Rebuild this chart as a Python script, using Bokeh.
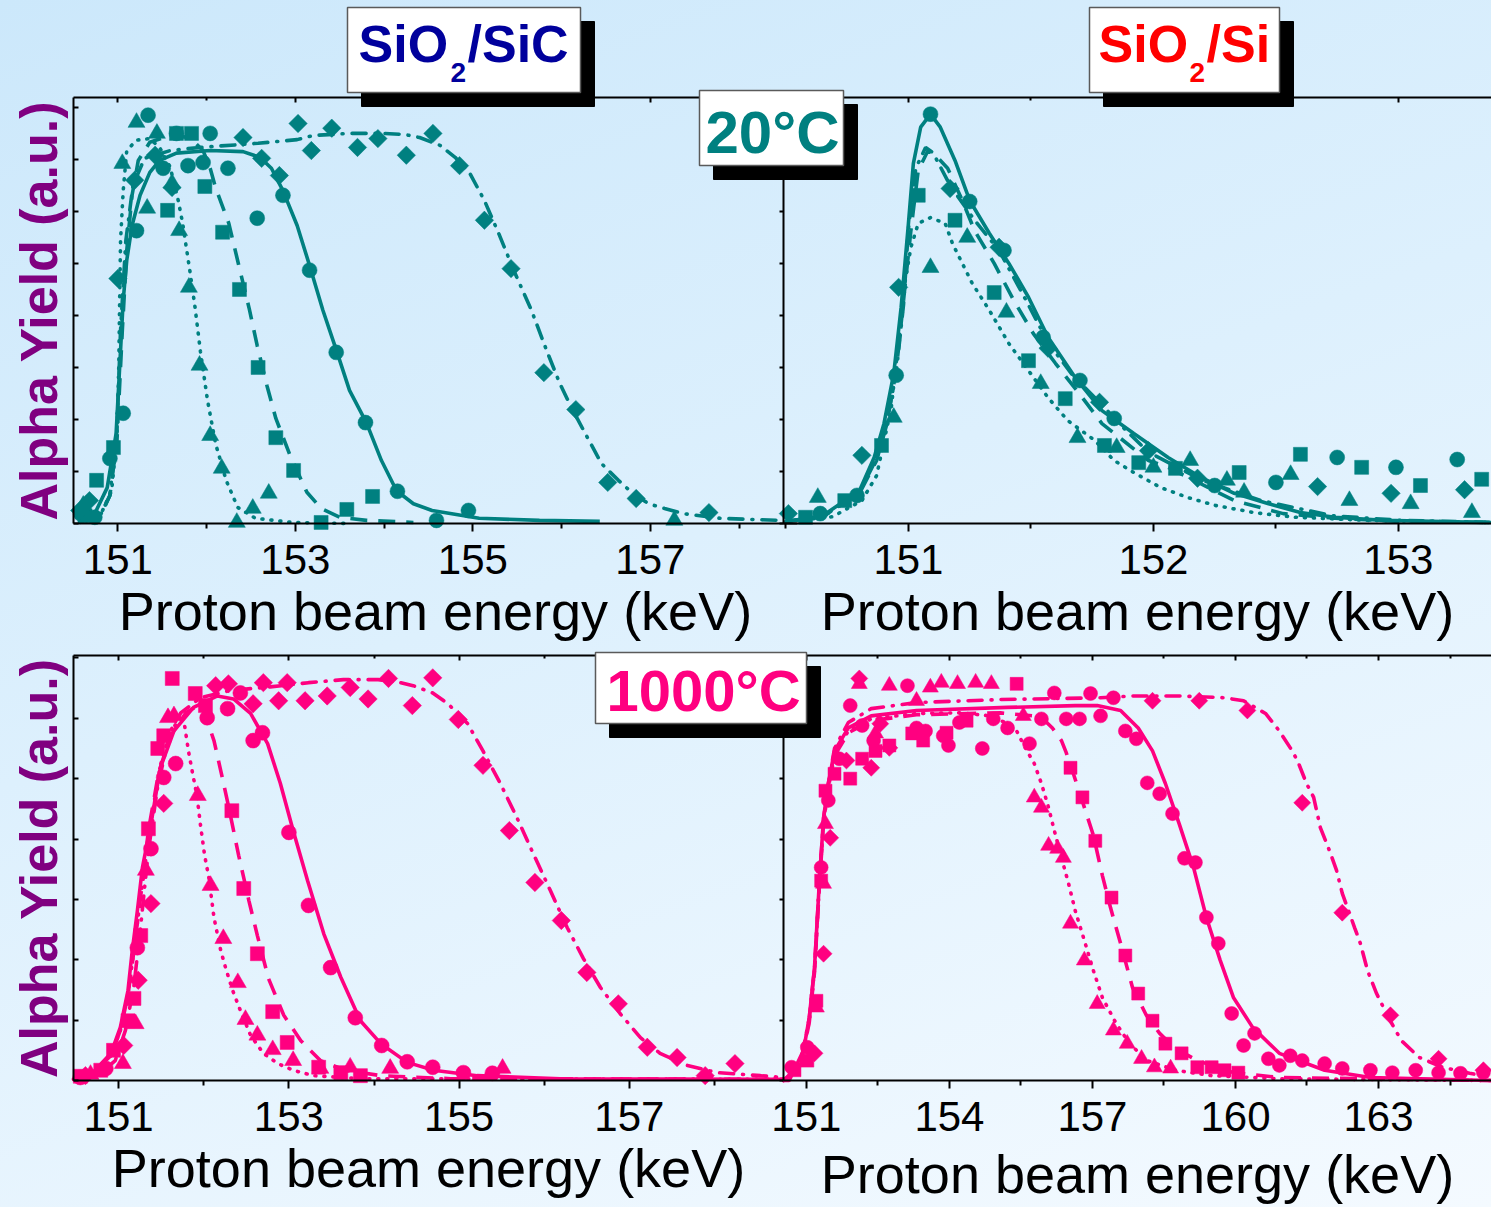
import numpy as np
from bokeh.plotting import figure
from bokeh.models import Range1d, LinearAxis, FixedTicker
from bokeh.layouts import column
from bokeh.embed import file_html
from bokeh.resources import INLINE
from bokeh.core.properties import value

# ---------------------------------------------------------------- data
# Energies in keV, yields in arbitrary units.

# SiO2/SiC, 20 C
tl_circ_x = [150.58, 150.74, 150.91, 151.06, 151.21, 151.34, 151.51, 151.66, 151.79, 151.96, 152.04, 152.24, 152.57, 152.86, 153.16, 153.46, 153.79, 154.15, 154.59, 154.95]
tl_circ_y = [0.19, 0.12, 1.25, 2.12, 5.63, 7.85, 6.83, 7.50, 6.88, 6.94, 7.50, 6.83, 5.87, 6.31, 4.87, 3.29, 1.94, 0.62, 0.06, 0.25]
tl_sq_x = [150.63, 150.76, 150.95, 151.56, 151.66, 151.83, 151.98, 152.18, 152.37, 152.58, 152.78, 152.98, 153.29, 153.58, 153.87]
tl_sq_y = [0.15, 0.83, 1.46, 6.02, 7.50, 7.50, 6.48, 5.60, 4.50, 3.00, 1.65, 1.02, 0.02, 0.27, 0.52]
tl_tri_x = [150.61, 151.05, 151.21, 151.33, 151.44, 151.61, 151.69, 151.80, 151.92, 152.04, 152.17, 152.34, 152.52, 152.70, 157.27]
tl_tri_y = [0.35, 6.92, 7.71, 6.06, 7.50, 6.54, 5.63, 4.54, 3.04, 1.69, 1.06, 0.02, 0.29, 0.58, 0.06]
tl_dia_x = [150.57, 150.68, 151.00, 151.19, 151.42, 151.61, 152.41, 152.62, 152.82, 153.03, 153.18, 153.41, 153.70, 153.93, 154.25, 154.55, 154.85, 155.13, 155.43, 155.80, 156.16, 156.52, 156.84, 157.66]
tl_dia_y = [0.25, 0.44, 4.71, 6.60, 7.08, 6.46, 7.42, 7.02, 6.69, 7.69, 7.17, 7.60, 7.23, 7.40, 7.08, 7.50, 6.88, 5.83, 4.90, 2.90, 2.19, 0.79, 0.48, 0.21]

tl_fit_solid_x = [150.57, 150.72, 150.88, 150.98, 151.02, 151.06, 151.10, 151.16, 151.25, 151.36, 151.47, 151.66, 152.04, 152.41, 152.60, 152.73, 152.86, 153.02, 153.16, 153.31, 153.47, 153.61, 153.80, 153.97, 154.14, 154.33, 154.54, 155.07, 155.75, 156.43]
tl_fit_solid_y = [0.02, 0.12, 0.69, 1.73, 3.00, 4.29, 5.06, 5.73, 6.31, 6.75, 6.98, 7.12, 7.17, 7.15, 7.04, 6.83, 6.40, 5.73, 4.96, 4.10, 3.29, 2.56, 1.94, 1.21, 0.63, 0.38, 0.25, 0.10, 0.06, 0.04]
tl_fit_dash_x = [150.63, 150.80, 150.91, 150.99, 151.05, 151.10, 151.16, 151.23, 151.36, 151.59, 151.81, 151.96, 152.04, 152.10, 152.25, 152.36, 152.48, 152.57, 152.68, 152.78, 152.94, 153.13, 153.29, 153.50, 153.80, 154.33]
tl_fit_dash_y = [0.04, 0.13, 0.54, 1.60, 3.71, 5.25, 6.31, 6.98, 7.33, 7.46, 7.42, 7.17, 6.83, 6.46, 5.77, 4.98, 4.13, 3.42, 2.65, 2.02, 1.31, 0.60, 0.29, 0.12, 0.06, 0.02]
tl_fit_dot_x = [150.57, 150.80, 150.93, 150.99, 151.01, 151.02, 151.03, 151.06, 151.10, 151.21, 151.36, 151.47, 151.59, 151.68, 151.73, 151.81, 151.87, 151.93, 152.01, 152.10, 152.22, 152.35, 152.55, 152.97, 153.61]
tl_fit_dot_y = [0.04, 0.15, 0.63, 1.73, 3.00, 4.29, 5.44, 6.40, 7.17, 7.37, 7.40, 7.23, 6.85, 6.21, 5.77, 4.87, 4.15, 3.31, 2.37, 1.54, 0.83, 0.31, 0.10, 0.02, 0.00]
tl_fit_dd_x = [150.57, 150.80, 150.91, 150.99, 151.03, 151.09, 151.17, 151.30, 151.59, 151.92, 152.58, 153.02, 153.20, 153.61, 153.98, 154.23, 154.40, 154.63, 154.80, 154.96, 155.13, 155.30, 155.47, 155.66, 155.83, 155.98, 156.11, 156.26, 156.45, 156.64, 156.80, 156.98, 157.16, 157.37, 157.79, 158.44]
tl_fit_dd_y = [0.04, 0.15, 0.54, 1.79, 3.71, 5.44, 6.50, 7.02, 7.17, 7.23, 7.31, 7.38, 7.46, 7.50, 7.50, 7.48, 7.42, 7.27, 7.04, 6.75, 6.21, 5.54, 4.83, 4.10, 3.33, 2.69, 2.23, 1.75, 1.15, 0.83, 0.58, 0.38, 0.29, 0.19, 0.10, 0.06]

# SiO2/Si, 20 C
tr_circ_x = [150.64, 150.79, 150.95, 151.09, 151.25, 151.39, 151.55, 151.70, 151.84, 152.25, 152.50, 152.75, 152.99, 153.24]
tr_circ_y = [0.19, 0.54, 2.85, 7.87, 6.19, 5.25, 3.58, 2.75, 2.02, 0.73, 0.79, 1.27, 1.08, 1.23]
tr_sq_x = [150.58, 150.74, 150.89, 151.04, 151.19, 151.35, 151.49, 151.64, 151.80, 151.94, 152.09, 152.35, 152.60, 152.85, 153.09, 153.34]
tr_sq_y = [0.12, 0.44, 1.50, 6.31, 5.83, 4.44, 3.13, 2.40, 1.50, 1.17, 1.06, 0.98, 1.33, 1.08, 0.73, 0.85]
tr_tri_x = [150.63, 150.94, 151.09, 151.24, 151.40, 151.54, 151.69, 151.85, 152.00, 152.15, 152.30, 152.37, 152.56, 152.80, 153.05, 153.30]
tr_tri_y = [0.50, 2.04, 4.92, 5.50, 4.06, 2.69, 1.65, 1.46, 1.08, 1.21, 0.83, 0.60, 0.94, 0.44, 0.38, 0.21]
tr_dia_x = [150.51, 150.81, 150.96, 151.17, 151.37, 151.57, 151.78, 151.98, 152.18, 152.67, 152.97, 153.27]
tr_dia_y = [0.19, 1.31, 4.54, 6.44, 5.31, 3.37, 2.33, 1.40, 0.87, 0.71, 0.58, 0.65]

tr_fit_solid_x = [150.50, 150.65, 150.80, 150.86, 150.90, 150.94, 150.97, 151.00, 151.02, 151.05, 151.09, 151.13, 151.19, 151.25, 151.33, 151.41, 151.49, 151.57, 151.68, 151.79, 151.92, 152.06, 152.20, 152.33, 152.47, 152.60, 152.74, 152.94, 153.38]
tr_fit_solid_y = [0.04, 0.15, 0.63, 1.27, 1.92, 2.88, 4.15, 5.77, 6.92, 7.62, 7.87, 7.62, 6.98, 6.21, 5.58, 5.00, 4.35, 3.58, 2.81, 2.17, 1.73, 1.27, 0.87, 0.58, 0.38, 0.21, 0.12, 0.06, 0.02]
tr_fit_dash_x = [150.50, 150.65, 150.80, 150.87, 150.91, 150.95, 150.98, 151.01, 151.04, 151.08, 151.11, 151.16, 151.22, 151.27, 151.35, 151.43, 151.51, 151.60, 151.71, 151.79, 151.98, 152.06, 152.33, 152.53, 152.74, 153.01, 153.38]
tr_fit_dash_y = [0.04, 0.13, 0.58, 1.21, 1.88, 2.94, 4.29, 5.63, 6.79, 7.17, 7.08, 6.83, 6.21, 5.63, 5.00, 4.29, 3.65, 3.08, 2.42, 1.92, 1.21, 1.08, 0.44, 0.19, 0.10, 0.04, 0.02]
tr_fit_dot_x = [150.50, 150.69, 150.81, 150.87, 150.93, 150.96, 150.98, 151.01, 151.04, 151.09, 151.15, 151.18, 151.22, 151.26, 151.33, 151.41, 151.49, 151.57, 151.65, 151.76, 151.84, 151.92, 152.03, 152.14, 152.25, 152.41, 152.58, 152.88, 153.38]
tr_fit_dot_y = [0.04, 0.13, 0.44, 0.92, 2.23, 3.52, 4.48, 5.31, 5.77, 5.88, 5.77, 5.38, 5.00, 4.62, 4.10, 3.46, 2.94, 2.42, 1.98, 1.60, 1.21, 0.98, 0.69, 0.50, 0.35, 0.21, 0.12, 0.06, 0.02]
tr_fit_dd_x = [150.50, 150.65, 150.80, 150.87, 150.91, 150.95, 150.98, 151.00, 151.03, 151.07, 151.10, 151.17, 151.27, 151.37, 151.47, 151.57, 151.67, 151.78, 151.88, 151.98, 152.20, 152.44, 152.73, 153.01, 153.38]
tr_fit_dd_y = [0.04, 0.13, 0.60, 1.25, 1.90, 2.90, 4.21, 5.67, 6.83, 7.23, 7.13, 6.50, 5.83, 5.25, 4.38, 3.48, 2.85, 2.33, 1.83, 1.37, 0.83, 0.44, 0.15, 0.06, 0.02]

# SiO2/SiC, 1000 C
bl_circ_x = [150.55, 150.85, 151.22, 151.38, 151.53, 151.67, 152.04, 152.28, 152.43, 152.58, 152.69, 153.00, 153.23, 153.49, 153.78, 154.09, 154.39, 154.69, 155.05, 155.39]
bl_circ_y = [0.05, 0.20, 2.20, 3.84, 5.02, 5.25, 6.01, 6.16, 6.42, 5.63, 5.76, 4.11, 2.90, 1.87, 1.04, 0.58, 0.31, 0.22, 0.13, 0.12]
bl_sq_x = [150.55, 150.79, 150.94, 151.11, 151.18, 151.26, 151.35, 151.46, 151.53, 151.63, 151.90, 152.02, 152.33, 152.47, 152.63, 152.81, 152.98, 153.35, 153.61, 153.84]
bl_sq_y = [0.07, 0.17, 0.50, 0.99, 1.36, 2.40, 4.17, 5.50, 5.71, 6.66, 6.41, 6.21, 4.47, 3.18, 2.10, 1.14, 0.63, 0.22, 0.13, 0.08]
bl_tri_x = [150.67, 151.05, 151.20, 151.32, 151.58, 151.65, 151.93, 152.08, 152.23, 152.40, 152.49, 152.63, 152.81, 153.05, 153.37, 153.72, 154.19, 155.51]
bl_tri_y = [0.10, 0.28, 0.94, 3.48, 6.01, 6.04, 4.72, 3.23, 2.35, 1.62, 1.01, 0.75, 0.51, 0.33, 0.20, 0.22, 0.20, 0.20]
bl_dia_x = [150.61, 151.06, 151.23, 151.38, 151.53, 152.14, 152.29, 152.58, 152.70, 152.88, 152.98, 153.19, 153.45, 153.72, 153.93, 154.17, 154.45, 154.69, 154.99, 155.28, 155.59, 155.89, 156.20, 156.50, 156.87, 157.21, 157.56, 157.89, 158.24]
bl_dia_y = [0.08, 0.58, 1.66, 2.93, 4.59, 6.54, 6.57, 6.24, 6.59, 6.29, 6.59, 6.29, 6.37, 6.51, 6.32, 6.66, 6.21, 6.67, 5.98, 5.22, 4.14, 3.28, 2.65, 1.79, 1.27, 0.55, 0.38, 0.08, 0.28]

bl_fit_solid_x = [150.47, 150.71, 150.91, 151.02, 151.11, 151.16, 151.22, 151.28, 151.38, 151.49, 151.65, 151.88, 152.16, 152.35, 152.55, 152.75, 152.90, 153.05, 153.22, 153.41, 153.61, 153.84, 154.08, 154.39, 154.70, 155.21, 156.19, 158.81]
bl_fit_solid_y = [0.02, 0.15, 0.45, 0.88, 1.49, 2.15, 2.81, 3.53, 4.25, 5.18, 5.79, 6.18, 6.37, 6.32, 6.08, 5.58, 4.92, 4.14, 3.31, 2.43, 1.71, 0.99, 0.61, 0.30, 0.17, 0.08, 0.03, 0.02]
bl_fit_dash_x = [150.47, 150.71, 150.91, 151.02, 151.11, 151.18, 151.26, 151.35, 151.47, 151.61, 151.79, 151.96, 152.04, 152.12, 152.20, 152.29, 152.41, 152.53, 152.63, 152.76, 152.94, 153.14, 153.37, 153.66, 154.08, 154.90, 158.81]
bl_fit_dash_y = [0.02, 0.15, 0.41, 0.83, 1.41, 2.15, 3.06, 4.14, 5.10, 5.71, 6.09, 6.24, 5.96, 5.63, 5.13, 4.55, 3.73, 2.98, 2.40, 1.69, 1.08, 0.66, 0.33, 0.17, 0.08, 0.03, 0.02]
bl_fit_dot_x = [150.47, 150.71, 150.91, 151.02, 151.11, 151.18, 151.26, 151.38, 151.49, 151.61, 151.70, 151.77, 151.82, 151.87, 151.92, 151.96, 152.01, 152.06, 152.12, 152.20, 152.26, 152.34, 152.43, 152.55, 152.70, 152.87, 153.05, 153.29, 153.84, 158.81]
bl_fit_dot_y = [0.02, 0.15, 0.41, 0.83, 1.44, 2.15, 3.06, 4.30, 5.22, 5.79, 6.03, 5.93, 5.46, 5.08, 4.72, 4.25, 3.73, 3.36, 2.70, 2.15, 1.85, 1.49, 1.16, 0.75, 0.45, 0.28, 0.17, 0.08, 0.03, 0.02]
bl_fit_dd_x = [150.50, 150.79, 150.96, 151.08, 151.18, 151.26, 151.35, 151.46, 151.58, 151.73, 151.96, 152.31, 152.78, 153.23, 153.64, 154.05, 154.31, 154.46, 154.69, 154.87, 155.10, 155.28, 155.48, 155.68, 155.87, 156.07, 156.27, 156.46, 156.66, 156.89, 157.13, 157.36, 157.68, 158.03, 158.54, 158.81]
bl_fit_dd_y = [0.03, 0.12, 0.33, 0.83, 1.57, 2.57, 3.81, 4.88, 5.63, 6.09, 6.34, 6.46, 6.52, 6.59, 6.64, 6.64, 6.59, 6.54, 6.42, 6.24, 5.91, 5.46, 4.93, 4.35, 3.76, 3.15, 2.53, 2.02, 1.54, 1.11, 0.71, 0.45, 0.25, 0.13, 0.08, 0.05]

# SiO2/Si, 1000 C
br_circ_x = [150.69, 151.02, 151.31, 151.46, 151.69, 151.92, 152.17, 152.41, 153.12, 153.31, 153.50, 153.87, 153.98, 154.21, 154.69, 154.92, 155.22, 155.68, 155.93, 156.20, 156.45, 156.73, 156.96, 157.17, 157.44, 157.69, 157.92, 158.15, 158.41, 158.68, 158.93, 159.16, 159.39, 159.64, 159.92, 160.17, 160.40, 160.69, 160.92, 161.15, 161.40, 161.87, 162.24, 162.83, 163.29, 163.78, 164.26, 164.72, 165.20]
br_circ_y = [0.22, 0.55, 3.53, 4.64, 5.33, 6.21, 5.88, 5.63, 6.54, 5.84, 5.79, 5.71, 5.55, 5.93, 5.50, 5.99, 5.84, 5.58, 5.99, 6.42, 5.99, 5.99, 6.41, 6.04, 6.34, 5.79, 5.66, 4.93, 4.75, 4.42, 3.68, 3.61, 2.70, 2.27, 1.11, 0.58, 0.78, 0.36, 0.25, 0.41, 0.33, 0.28, 0.20, 0.17, 0.13, 0.17, 0.13, 0.12, 0.13]
br_sq_x = [150.75, 151.02, 151.21, 151.31, 151.40, 151.59, 151.92, 152.17, 152.45, 152.74, 153.22, 153.45, 153.94, 154.36, 155.41, 156.54, 156.79, 157.06, 157.40, 157.69, 157.96, 158.26, 158.53, 158.87, 159.20, 159.50, 159.77, 160.06]
br_sq_y = [0.17, 0.33, 1.32, 3.31, 4.80, 5.08, 5.00, 5.33, 5.46, 5.55, 5.75, 5.63, 5.76, 5.96, 6.57, 5.18, 4.69, 3.97, 3.03, 2.07, 1.44, 0.99, 0.61, 0.45, 0.22, 0.22, 0.17, 0.13]
br_tri_x = [151.21, 151.36, 151.40, 152.11, 152.45, 152.74, 153.31, 153.60, 153.83, 154.17, 154.55, 154.88, 155.55, 155.78, 155.93, 156.08, 156.27, 156.39, 156.54, 156.83, 157.10, 157.44, 157.73, 158.03, 158.30, 158.64]
br_tri_y = [1.21, 3.26, 4.25, 6.57, 5.75, 6.54, 6.29, 6.51, 6.59, 6.57, 6.59, 6.57, 6.04, 4.69, 4.52, 3.89, 3.84, 3.69, 2.60, 1.99, 1.27, 0.83, 0.61, 0.36, 0.22, 0.20]
br_dia_x = [151.17, 151.36, 151.50, 151.84, 152.11, 152.36, 152.55, 152.74, 158.26, 159.24, 160.25, 161.40, 162.24, 163.25, 164.26, 165.20]
br_dia_y = [0.45, 2.10, 4.02, 5.30, 6.66, 5.18, 5.91, 5.51, 6.29, 6.29, 6.13, 4.60, 2.78, 1.08, 0.36, 0.17]

br_fit_solid_x = [150.52, 150.64, 150.94, 151.06, 151.17, 151.27, 151.36, 151.46, 151.59, 151.88, 152.36, 153.31, 155.22, 156.64, 157.10, 157.59, 157.96, 158.26, 158.53, 158.82, 159.12, 159.39, 159.68, 159.96, 160.36, 160.92, 161.87, 162.83, 165.37]
br_fit_solid_y = [0.00, 0.00, 0.50, 1.04, 1.87, 3.26, 4.35, 4.92, 5.46, 5.84, 6.04, 6.13, 6.18, 6.21, 6.21, 6.13, 5.84, 5.46, 4.92, 4.25, 3.53, 2.70, 1.99, 1.37, 0.88, 0.45, 0.17, 0.05, 0.00]
br_fit_dash_x = [150.52, 150.87, 151.06, 151.17, 151.27, 151.36, 151.46, 151.59, 151.88, 152.36, 153.31, 155.07, 155.91, 156.16, 156.35, 156.45, 156.58, 156.75, 157.02, 157.21, 157.38, 157.59, 157.84, 158.13, 158.41, 158.74, 159.20, 159.96, 160.92, 165.37]
br_fit_dash_y = [0.00, 0.23, 0.96, 1.79, 3.18, 4.27, 4.85, 5.38, 5.76, 5.96, 6.06, 6.09, 6.03, 5.84, 5.63, 5.43, 5.13, 4.72, 4.06, 3.39, 2.86, 2.27, 1.54, 1.08, 0.78, 0.53, 0.33, 0.13, 0.05, 0.00]
br_fit_dot_x = [150.52, 150.87, 151.06, 151.17, 151.27, 151.36, 151.46, 151.59, 151.88, 152.36, 153.31, 154.23, 154.86, 155.22, 155.41, 155.59, 155.78, 155.93, 156.08, 156.20, 156.35, 156.50, 156.64, 156.83, 157.02, 157.21, 157.50, 157.78, 158.15, 158.74, 159.50, 160.92, 165.37]
br_fit_dot_y = [0.00, 0.25, 0.99, 1.82, 3.23, 4.30, 4.88, 5.43, 5.79, 5.99, 6.08, 6.09, 6.04, 5.91, 5.79, 5.51, 5.25, 4.92, 4.52, 4.14, 3.69, 3.26, 2.81, 2.32, 1.82, 1.37, 0.94, 0.61, 0.33, 0.17, 0.08, 0.03, 0.00]
br_fit_dd_x = [150.52, 150.87, 151.06, 151.17, 151.27, 151.36, 151.46, 151.59, 151.88, 152.36, 153.31, 155.07, 157.17, 157.88, 158.82, 159.77, 160.17, 160.63, 160.92, 161.15, 161.30, 161.49, 161.64, 161.78, 161.97, 162.12, 162.24, 162.50, 162.62, 162.77, 162.96, 163.21, 163.48, 163.86, 164.34, 164.91, 165.37]
br_fit_dd_y = [0.00, 0.26, 1.03, 1.85, 3.25, 4.34, 4.92, 5.50, 5.93, 6.16, 6.26, 6.31, 6.34, 6.37, 6.37, 6.34, 6.29, 6.08, 5.79, 5.51, 5.30, 4.92, 4.69, 4.19, 3.81, 3.48, 3.10, 2.53, 2.27, 1.82, 1.44, 1.04, 0.66, 0.38, 0.22, 0.12, 0.05]

# axis ticks (keV)
tl_ticks, tl_minor = [151, 153, 155, 157], [152, 154, 156, 158]
tr_ticks, tr_minor = [151, 152, 153], [150.5, 151.5, 152.5]
bl_ticks, bl_minor = [151, 153, 155, 157], [152, 154, 156, 158]
br_ticks, br_minor = [151, 154, 157, 160, 163], [152.5, 155.5, 158.5, 161.5, 164.5]

# ---------------------------------------------------------------- layout
W = 1491
TOP_H, BOT_H = 645, 562
LEFT, SPLIT = 73, 783
FONT = "Liberation Sans"
TEAL, PINK, PURPLE = "#008080", "#FF0080", "#800080"


def widen(lo, hi, p0, p1, total):
    """Range over the whole canvas such that [lo, hi] lands on pixels [p0, p1]."""
    k = (hi - lo) / (p1 - p0)
    return Range1d(lo - p0 * k, hi + (total - p1) * k)


def make_row(page_top, height, frame_top, frame_bot, ymax, ldom, rdom):
    p = figure(width=W, height=height, output_backend="svg", toolbar_location=None,
               x_range=Range1d(0, W), y_range=Range1d(page_top + height, page_top),
               x_axis_location=None, y_axis_location=None, min_border=0,
               background_fill_color=None, border_fill_color=None, outline_line_color=None)
    p.xgrid.grid_line_color = None
    p.ygrid.grid_line_color = None
    p.extra_x_ranges = {"L": widen(ldom[0], ldom[1], LEFT, SPLIT, W),
                        "R": widen(rdom[0], rdom[1], SPLIT, W, W)}
    bot = page_top + height
    p.extra_y_ranges = {"v": widen(0, ymax, bot - frame_bot, bot - frame_top, height)}
    return p


# tick marks only, no tick text
QUIET = dict(major_label_text_color=None, major_label_text_font_size="1px", major_label_standoff=0)


def add_axes(p, ymax, ldom, rdom, lt, lm, rt, rm, label_standoff, lbounds, rbounds):
    common = dict(axis_line_width=2, major_tick_line_width=2, minor_tick_line_width=2,
                  axis_line_color="black", major_tick_line_color="black", minor_tick_line_color="black")
    for name, dom, bnd, ticks, minor, std in (("L", ldom, lbounds, lt, lm, label_standoff[0]),
                                              ("R", rdom, rbounds, rt, rm, label_standoff[1])):
        ax = LinearAxis(x_range_name=name, y_range_name="v", fixed_location=0, bounds=bnd,
                        ticker=FixedTicker(ticks=ticks, minor_ticks=minor),
                        axis_label="Proton beam energy (keV)",
                        axis_label_text_font=FONT, axis_label_text_font_size="54px",
                        axis_label_text_font_style="normal", axis_label_text_color="black",
                        axis_label_standoff=std,
                        major_label_text_font=FONT, major_label_text_font_size="42px",
                        major_label_text_color="black", major_label_standoff=13,
                        major_tick_in=0, major_tick_out=8, minor_tick_in=0, minor_tick_out=5, **common)
        p.add_layout(ax, "below")
        top = LinearAxis(x_range_name=name, y_range_name="v", fixed_location=ymax, bounds=dom,
                         ticker=FixedTicker(ticks=ticks, minor_ticks=minor),
                         major_tick_in=5, major_tick_out=0, minor_tick_in=3, minor_tick_out=0,
                         **QUIET, **common)
        p.add_layout(top, "above")
    ay = LinearAxis(x_range_name="L", y_range_name="v", fixed_location=ldom[0], bounds=(0, ymax),
                    ticker=FixedTicker(ticks=list(range(0, int(ymax) + 1)), minor_ticks=[]),
                    axis_label="Alpha Yield (a.u.)", axis_label_text_font=FONT,
                    axis_label_text_font_size="52px", axis_label_text_font_style="bold",
                    axis_label_text_color=PURPLE, axis_label_standoff=6,
                    major_tick_in=5, major_tick_out=0, minor_tick_in=0, minor_tick_out=0,
                    **QUIET, **common)
    p.add_layout(ay, "left")
    sep = LinearAxis(x_range_name="R", y_range_name="v", fixed_location=rdom[0], bounds=(0, ymax),
                     ticker=FixedTicker(ticks=list(range(0, int(ymax) + 1)), minor_ticks=[]),
                     major_tick_in=0, major_tick_out=4, minor_tick_in=0, minor_tick_out=0,
                     **QUIET, **common)
    p.add_layout(sep, "left")


STYLES = {"solid": dict(line_dash="solid", line_cap="butt"),
          "dash": dict(line_dash="17 11", line_cap="butt"),
          "dot": dict(line_dash="1 8", line_cap="round"),
          "dd": dict(line_dash="14 9 1 9", line_cap="round")}


def draw_panel(p, rng, color, fits, marks, msize):
    for (fx, fy), style in fits:
        p.line(fx, fy, x_range_name=rng, y_range_name="v", line_color=color,
               line_width=3.6, **STYLES[style])
    for (mx, my), marker in marks:
        kw = dict(marker=marker, size=msize[marker])
        if marker == "diamond":
            kw = dict(marker="square", angle=np.pi / 4, size=msize[marker])
        p.scatter(mx, my, x_range_name=rng, y_range_name="v", fill_color=color,
                  line_color=color, line_width=0.5, **kw)


def boxed(p, left, right, top, bottom, shift=14):
    p.quad(left=left + shift, right=right + shift, top=top + shift, bottom=bottom + shift,
           fill_color="black", line_color="black", level="overlay")
    p.quad(left=left, right=right, top=top, bottom=bottom, fill_color="white",
           line_color="#5a5a5a", line_width=1.5, level="overlay")


def label(p, x, base, txt, color, size, align="left"):
    # the text glyph's alphabetic anchor sits about a third of an em below the drawn baseline
    p.text(x=[x], y=[base - 0.34 * size], text=[txt], text_color=color, text_font=value(FONT),
           text_font_style="bold", text_font_size=f"{size}px", text_align=align,
           text_baseline="alphabetic", level="overlay")


msize = {"circle": 15, "square": 14, "triangle": 17, "diamond": 13}

# ---------------------------------------------------------------- top row (20 C)
TL_DOM, TR_DOM, TOP_YMAX = (150.5, 158.5), (150.49, 153.38), 8.19
top = make_row(0, TOP_H, 97, 523, TOP_YMAX, TL_DOM, TR_DOM)
draw_panel(top, "L", TEAL,
           [((tl_fit_solid_x, tl_fit_solid_y), "solid"), ((tl_fit_dash_x, tl_fit_dash_y), "dash"),
            ((tl_fit_dot_x, tl_fit_dot_y), "dot"), ((tl_fit_dd_x, tl_fit_dd_y), "dd")],
           [((tl_circ_x, tl_circ_y), "circle"), ((tl_sq_x, tl_sq_y), "square"),
            ((tl_tri_x, tl_tri_y), "triangle"), ((tl_dia_x, tl_dia_y), "diamond")], msize)
draw_panel(top, "R", TEAL,
           [((tr_fit_solid_x, tr_fit_solid_y), "solid"), ((tr_fit_dash_x, tr_fit_dash_y), "dash"),
            ((tr_fit_dot_x, tr_fit_dot_y), "dot"), ((tr_fit_dd_x, tr_fit_dd_y), "dd")],
           [((tr_circ_x, tr_circ_y), "circle"), ((tr_sq_x, tr_sq_y), "square"),
            ((tr_tri_x, tr_tri_y), "triangle"), ((tr_dia_x, tr_dia_y), "diamond")], msize)
add_axes(top, TOP_YMAX, TL_DOM, TR_DOM, tl_ticks, tl_minor, tr_ticks, tr_minor, (4, 4),
         (150.5, 158.66), TR_DOM)

NAVY, RED = "#00009C", "#FF0000"
boxed(top, 347, 580, 7, 92)
label(top, 358, 61, "SiO", NAVY, 52)
label(top, 450, 82, "2", NAVY, 28)
label(top, 467, 61, "/SiC", NAVY, 52)
boxed(top, 1089, 1279, 7, 92)
label(top, 1098, 61, "SiO", RED, 52)
label(top, 1189, 82, "2", RED, 28)
label(top, 1206, 61, "/Si", RED, 52)
boxed(top, 699, 843, 90, 165)
label(top, 772, 152, "20°C", TEAL, 60, align="center")

# ---------------------------------------------------------------- bottom row (1000 C)
BL_DOM, BR_DOM, BOT_YMAX = (150.47, 158.81), (150.52, 165.37), 7.04
bot = make_row(TOP_H, BOT_H, 655, 1080, BOT_YMAX, BL_DOM, BR_DOM)
draw_panel(bot, "L", PINK,
           [((bl_fit_solid_x, bl_fit_solid_y), "solid"), ((bl_fit_dash_x, bl_fit_dash_y), "dash"),
            ((bl_fit_dot_x, bl_fit_dot_y), "dot"), ((bl_fit_dd_x, bl_fit_dd_y), "dd")],
           [((bl_circ_x, bl_circ_y), "circle"), ((bl_sq_x, bl_sq_y), "square"),
            ((bl_tri_x, bl_tri_y), "triangle"), ((bl_dia_x, bl_dia_y), "diamond")], msize)
draw_panel(bot, "R", PINK,
           [((br_fit_solid_x, br_fit_solid_y), "solid"), ((br_fit_dash_x, br_fit_dash_y), "dash"),
            ((br_fit_dot_x, br_fit_dot_y), "dot"), ((br_fit_dd_x, br_fit_dd_y), "dd")],
           [((br_circ_x, br_circ_y), "circle"), ((br_sq_x, br_sq_y), "square"),
            ((br_tri_x, br_tri_y), "triangle"), ((br_dia_x, br_dia_y), "diamond")],
           {"circle": 14, "square": 13, "triangle": 16, "diamond": 12})
add_axes(bot, BOT_YMAX, BL_DOM, BR_DOM, bl_ticks, bl_minor, br_ticks, br_minor, (4, 10),
         BL_DOM, (150.52, 165.92))

boxed(bot, 595, 806, 652, 723)
label(bot, 703, 710, "1000°C", PINK, 58, align="center")

page = column(top, bot, spacing=0, width=W, height=TOP_H + BOT_H,
              styles={"background": "linear-gradient(160deg, #CCE8FB 0%, #DDF0FD 45%, #F4FAFF 100%)"})

open("out.html", "w").write(file_html(page, INLINE))
